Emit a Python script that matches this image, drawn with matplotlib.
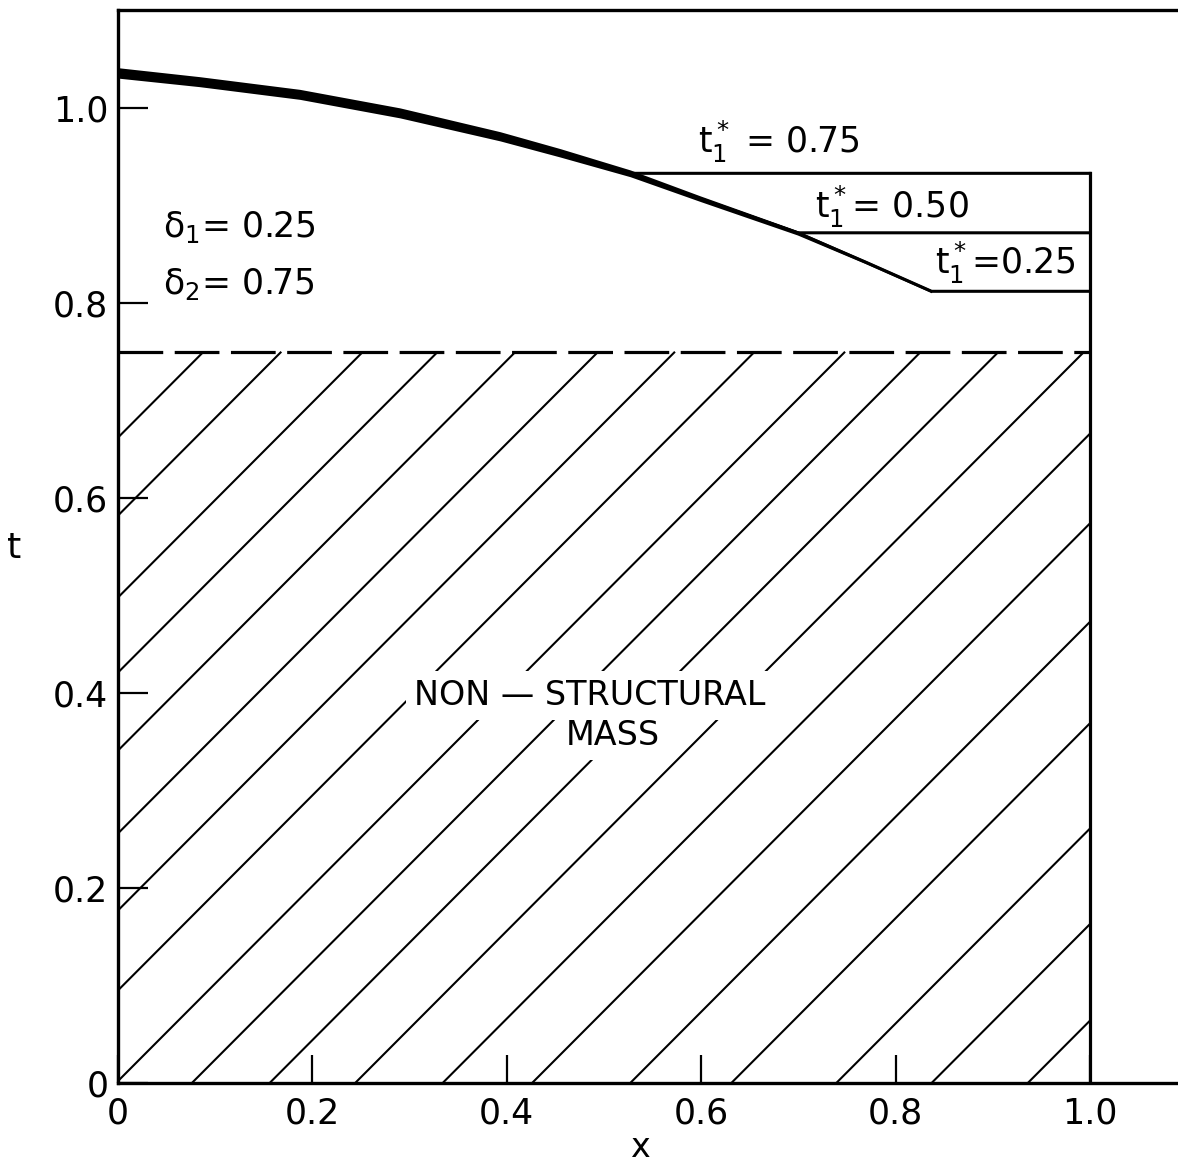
import matplotlib
matplotlib.use("Agg")
import matplotlib.pyplot as plt
import numpy as np

# ---- data ----
curve_x = [0.0, 0.084, 0.187, 0.290, 0.393, 0.455, 0.527, 0.599, 0.699, 0.769, 0.837]
curve_t = [1.036, 1.027, 1.014, 0.995, 0.971, 0.954, 0.933, 0.907, 0.872, 0.842, 0.812]
t_star_values = ["0.75", "0.50", "0.25"]
break_index = [6, 8, 10]          # index in curve where each t1* branch turns flat
delta1 = 0.25
delta2 = 0.75
hatch_x0 = [-0.662, -0.582, -0.498, -0.421, -0.341, -0.256, -0.177, -0.095, -0.002,
            0.076, 0.156, 0.244, 0.334, 0.426, 0.527, 0.631, 0.739, 0.837, 0.936]
x_ticks = [0, 0.2, 0.4, 0.6, 0.8, 1.0]
x_tick_labels = ["0", "0.2", "0.4", "0.6", "0.8", "1.0"]
y_ticks = [0, 0.2, 0.4, 0.6, 0.8, 1.0]
y_tick_labels = ["0", "0.2", "0.4", "0.6", "0.8", "1.0"]

plt.rcParams['font.family'] = ['DejaVu Sans']
plt.rcParams['mathtext.default'] = 'regular'

W, H = 1178, 1167
fig = plt.figure(figsize=(W / 100, H / 100), dpi=100)
ax = fig.add_axes([118 / W, (H - 1083) / H, 1060 / W, 1073 / H])
ax.set_xlim(0, 1060 / 972)
ax.set_ylim(0, 1073 / 975)

for s in ['left', 'top', 'bottom']:
    ax.spines[s].set_linewidth(2.4)
ax.spines['right'].set_visible(False)

ax.set_xticks(x_ticks)
ax.set_xticklabels(x_tick_labels)
ax.set_yticks(y_ticks)
ax.set_yticklabels(y_tick_labels)
ax.tick_params(axis='both', direction='in', width=1.6, labelsize=25)
ax.tick_params(axis='x', length=20, pad=10)
ax.tick_params(axis='y', length=21.6, pad=7)
ax.tick_params(top=False, right=False)

ax.set_xlabel('x', fontsize=24)
ax.xaxis.set_label_coords((640 - 118) / 1060, -0.045)
ax.set_ylabel('t', fontsize=26, rotation=0, va='center', ha='center')
ax.yaxis.set_label_coords((14 - 118) / 1060, (1083 - 548) / 1073)

# hatching of the non-structural mass region (0 <= t <= delta2)
top = delta2
for x0 in hatch_x0:
    xa = max(0.0, x0)
    xb = min(1.0, x0 + top)
    ax.plot([xa, xb], [xa - x0, xb - x0], color='black', lw=1.5, zorder=2,
            solid_capstyle='butt')

# dashed line at t = delta2
ax.plot([0, 1.0], [delta2, delta2], color='black', lw=2.3,
        linestyle=(0, (14, 3.6)), zorder=3)

# optimal thickness curves with plateaus
for k, idx in enumerate(break_index):
    xs = curve_x[:idx + 1] + [1.0]
    ts = curve_t[:idx + 1] + [curve_t[idx]]
    ax.plot(xs, ts, color='black', lw=2.2, zorder=4, solid_joinstyle='round')

# thick overlapping part of the curves (tapering ink band)
half_px = np.array([5.2, 5.0, 5.0, 5.0, 4.6, 4.2, 3.4, 2.8, 2.2, 1.6, 1.5])
ct = np.array(curve_t)
ax.fill_between(curve_x, ct - half_px / 975, ct + half_px / 975,
                color='black', lw=0, zorder=5)

# vertical line at x = 1
ax.plot([1.0, 1.0], [0, curve_t[break_index[0]]], color='black', lw=2.3, zorder=4)

# annotations
fs = 25
ax.text((163 - 118) / 972, (1083 - 237) / 975, 'δ$_1$= %.2f' % delta1, fontsize=fs,
        ha='left', va='baseline')
ax.text((163 - 118) / 972, (1083 - 294) / 975, 'δ$_2$= %.2f' % delta2, fontsize=fs,
        ha='left', va='baseline')

ax.text((698 - 118) / 972, (1083 - 153) / 975, '$t_1^*$ = ' + t_star_values[0],
        fontsize=fs, ha='left', va='baseline')
ax.text((815 - 118) / 972, (1083 - 218) / 975, '$t_1^*$= ' + t_star_values[1],
        fontsize=fs, ha='left', va='baseline')
ax.text((935 - 118) / 972, (1083 - 274) / 975, '$t_1^*$=' + t_star_values[2],
        fontsize=fs, ha='left', va='baseline')

bbox = dict(facecolor='white', edgecolor='none', pad=6)
ax.text((590 - 118) / 972, (1083 - 705) / 975, 'NON — STRUCTURAL', fontsize=24,
        ha='center', va='baseline', zorder=6, bbox=bbox)
ax.text((613 - 118) / 972, (1083 - 745) / 975, 'MASS', fontsize=24,
        ha='center', va='baseline', zorder=6, bbox=bbox)

fig.savefig('out.png', dpi=100)
